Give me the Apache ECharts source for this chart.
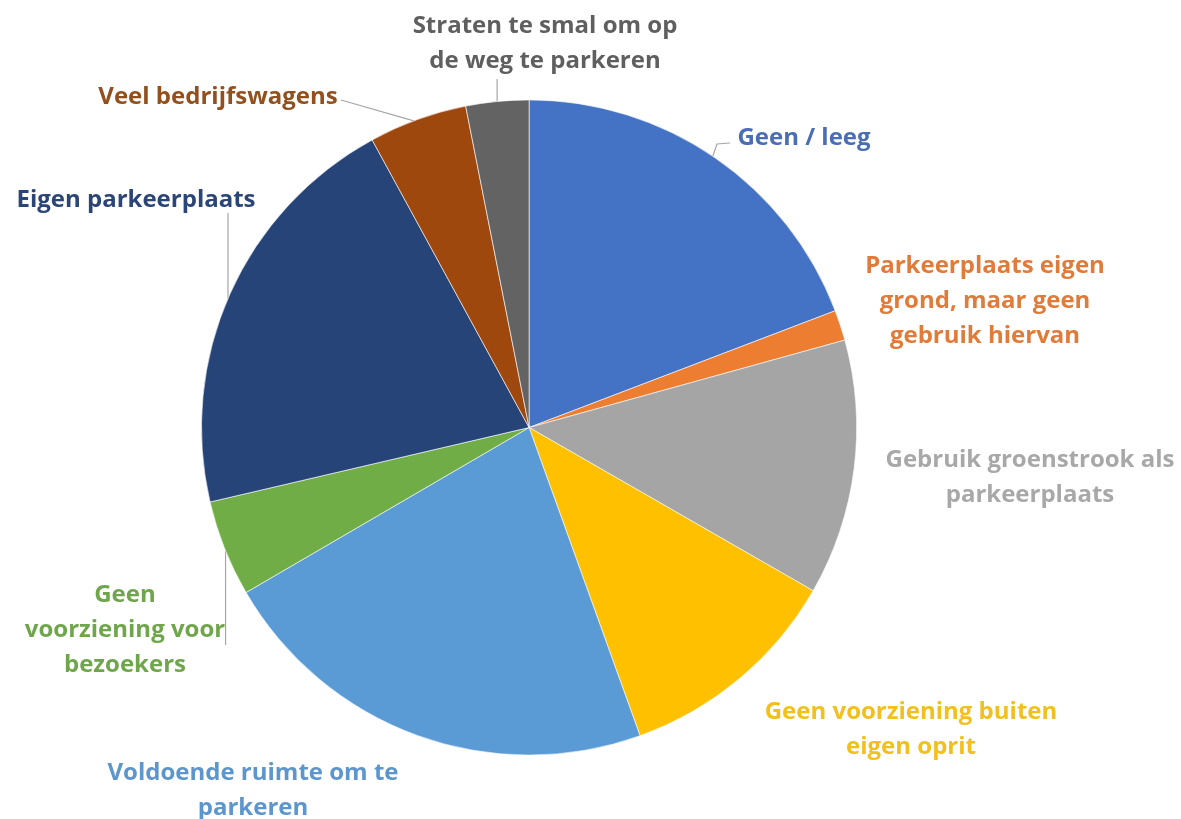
<!DOCTYPE html>
<html>
<head>
<meta charset="utf-8">
<script src="https://cdn.jsdelivr.net/npm/echarts@6/dist/echarts.min.js"></script>
<style>
html,body{margin:0;padding:0;background:#fff;}
#chart{width:1181px;height:819px;}
</style>
</head>
<body>
<div id="chart"></div>
<script>
// Categories (clockwise from 12 o'clock)
const categories = [
  'Geen / leeg',
  'Parkeerplaats eigen grond, maar geen gebruik hiervan',
  'Gebruik groenstrook als parkeerplaats',
  'Geen voorziening buiten eigen oprit',
  'Voldoende ruimte om te parkeren',
  'Geen voorziening voor bezoekers',
  'Eigen parkeerplaats',
  'Veel bedrijfswagens',
  'Straten te smal om op de weg te parkeren'
];
// Share of answers (%)
const values = [19.2, 1.5, 12.6, 11.2, 22.1, 4.75, 20.7, 4.85, 3.1];

// Label text as wrapped in the reference
const labelTexts = [
  'Geen / leeg',
  'Parkeerplaats eigen\ngrond, maar geen\ngebruik hiervan',
  'Gebruik groenstrook als\nparkeerplaats',
  'Geen voorziening buiten\neigen oprit',
  'Voldoende ruimte om te\nparkeren',
  'Geen\nvoorziening voor\nbezoekers',
  'Eigen parkeerplaats',
  'Veel bedrijfswagens',
  'Straten te smal om op\nde weg te parkeren'
];

const colors = ['#4472C4','#ED7D31','#A5A5A5','#FFC000','#5B9BD5','#70AD47','#264478','#9E480E','#636363'];
const textColors = ['#4A6DB3','#E07B3A','#A8A8A8','#F2C01E','#5C96CC','#6FA64B','#2B4576','#92501E','#5F5F5F'];

// ---- layout (not data) ----
// label block centres
const labelSpots = [
  [804,138],[985,301],[1030,478],[911,730],[253,791],[125,630],[136,200],[218,97],[545,44]
];
// leader lines: angle (deg, clockwise from top) where the line touches the pie, then outer points
const leaders = [
  { angle: 34.1, pts: [[717,144],[730,143]] },
  null, null, null, null,
  { angle: 247.9, vertical: true, pts: [[null,645]] },
  { angle: 293.2, vertical: true, pts: [[null,213]] },
  { angle: 339.4, pts: [[341,100]] },
  { angle: 354.4, vertical: true, pts: [[null,79]] }
];

const chart = echarts.init(document.getElementById('chart'), null, {renderer:'canvas'});

function leaderPoints(idx) {
  const ld = leaders[idx];
  if (!ld) return undefined;
  const lay = chart.getModel().getSeriesByIndex(0).getData().getItemLayout(idx);
  const a = ld.angle * Math.PI / 180;
  const px = lay.cx + lay.r * Math.sin(a);
  const py = lay.cy - lay.r * Math.cos(a);
  const out = [[px, py]];
  ld.pts.forEach(p => out.push([p[0] === null ? px : p[0], p[1]]));
  if (out.length === 2) out.push(out[1]);
  return out.slice(0, 3);
}

chart.setOption({
  backgroundColor: '#fff',
  animation: false,
  series: [{
    type: 'pie',
    center: ['44.8%', '52.2%'],
    radius: '80%',
    startAngle: 90,
    clockwise: true,
    avoidLabelOverlap: false,
    itemStyle: { borderColor: '#fff', borderWidth: 0.6 },
    label: {
      show: true,
      position: 'outside',
      fontFamily: 'Open Sans',
      fontWeight: 'bold',
      fontSize: 24,
      lineHeight: 35,
      align: 'center'
    },
    labelLine: {
      show: true,
      length: 10,
      length2: 10,
      lineStyle: { color: '#A6A6A6', width: 1.2 }
    },
    labelLayout: function (p) {
      const s = labelSpots[p.dataIndex];
      const res = { x: s[0], y: s[1], align: 'center', verticalAlign: 'middle' };
      const pts = leaderPoints(p.dataIndex);
      if (pts) res.labelLinePoints = pts;
      return res;
    },
    data: categories.map((c, i) => ({
      name: c,
      value: values[i],
      itemStyle: { color: colors[i] },
      label: { color: textColors[i], formatter: labelTexts[i] },
      labelLine: { show: !!leaders[i] }
    }))
  }]
});
</script>
</body>
</html>
